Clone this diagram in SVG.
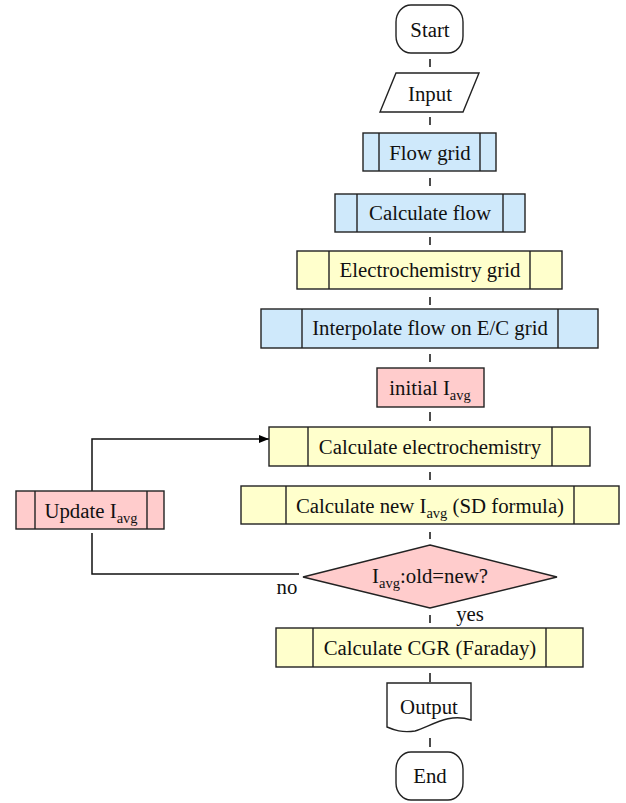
<svg xmlns="http://www.w3.org/2000/svg" width="626" height="803" viewBox="0 0 626 803" font-family="'Liberation Serif', 'Times New Roman', serif">
<defs>
<marker id="arr" markerWidth="10" markerHeight="8" refX="10" refY="4" orient="auto" markerUnits="userSpaceOnUse">
<path d="M0,0 L10,4 L0,8 Z" fill="#000"/>
</marker>
<style>
.s{stroke:#222;stroke-width:1.4}
.b{fill:#cfe9fb}
.y{fill:#ffffcc}
.p{fill:#ffcccc}
.w{fill:#fff}
text{font-family:'Liberation Serif','Times New Roman',serif}
.t{font-size:20.8px;fill:#111;text-anchor:middle}
.sub{font-size:14.5px}
.c{stroke:#111;stroke-width:1.5;fill:none}
</style>
</defs>
<rect width="626" height="803" fill="#fff"/>
<g id="connectors">
<line class="c" x1="430" y1="59" x2="430" y2="67"/>
<line class="c" x1="430" y1="117" x2="430" y2="125"/>
<line class="c" x1="430" y1="178" x2="430" y2="186"/>
<line class="c" x1="430" y1="237" x2="430" y2="245"/>
<line class="c" x1="430" y1="297" x2="430" y2="305"/>
<line class="c" x1="430" y1="354" x2="430" y2="362"/>
<line class="c" x1="430" y1="412" x2="430" y2="421"/>
<line class="c" x1="430" y1="472" x2="430" y2="480"/>
<line class="c" x1="430" y1="532" x2="430" y2="539"/>
<line class="c" x1="430" y1="615" x2="430" y2="623"/>
<line class="c" x1="430" y1="673" x2="430" y2="682"/>
<line class="c" x1="430" y1="738" x2="430" y2="747"/>
<polyline class="c" points="299,574 92,574 92,533"/>
<polyline class="c" points="92,491 92,439 269,439" marker-end="url(#arr)"/>
<text class="t" x="287" y="594">no</text>
<text class="t" x="470" y="621">yes</text>
</g>
<g id="start">
<rect class="s w" x="396" y="5" width="67" height="48" rx="15" ry="17"/>
<text class="t" x="430" y="37">Start</text>
</g>
<g id="input">
<polygon class="s w" points="396,73 479,73 463,112 380,112"/>
<text class="t" x="430" y="101">Input</text>
</g>
<g id="flowgrid">
<rect class="s b" x="363" y="133" width="133" height="38"/>
<line class="s" x1="379" y1="133" x2="379" y2="171"/>
<line class="s" x1="480" y1="133" x2="480" y2="171"/>
<text class="t" x="430" y="160">Flow grid</text>
</g>
<g id="calcflow">
<rect class="s b" x="335" y="194" width="190" height="38"/>
<line class="s" x1="357" y1="194" x2="357" y2="232"/>
<line class="s" x1="503" y1="194" x2="503" y2="232"/>
<text class="t" x="430" y="220">Calculate flow</text>
</g>
<g id="ecgrid">
<rect class="s y" x="297" y="251" width="265" height="38"/>
<line class="s" x1="329" y1="251" x2="329" y2="289"/>
<line class="s" x1="530" y1="251" x2="530" y2="289"/>
<text class="t" x="430" y="277">Electrochemistry grid</text>
</g>
<g id="interp">
<rect class="s b" x="261" y="309" width="337" height="39"/>
<line class="s" x1="302" y1="309" x2="302" y2="348"/>
<line class="s" x1="558" y1="309" x2="558" y2="348"/>
<text class="t" x="430" y="335">Interpolate flow on E/C grid</text>
</g>
<g id="initial">
<rect class="s p" x="377" y="368" width="107" height="39"/>
<text class="t" x="430" y="395">initial I<tspan class="sub" dy="5">avg</tspan></text>
</g>
<g id="calcec">
<rect class="s y" x="269" y="427" width="321" height="39"/>
<line class="s" x1="308" y1="427" x2="308" y2="466"/>
<line class="s" x1="552" y1="427" x2="552" y2="466"/>
<text class="t" x="430" y="454">Calculate electrochemistry</text>
</g>
<g id="calcnew">
<rect class="s y" x="241" y="486" width="378" height="38"/>
<line class="s" x1="286" y1="486" x2="286" y2="524"/>
<line class="s" x1="574" y1="486" x2="574" y2="524"/>
<text class="t" x="430" y="513">Calculate new I<tspan class="sub" dy="5">avg</tspan><tspan dy="-5"> (SD formula)</tspan></text>
</g>
<g id="decision">
<polygon class="s p" points="430,545 557,577 430,608 303,577"/>
<text class="t" x="430" y="583">I<tspan class="sub" dy="5">avg</tspan><tspan dy="-5">:old=new?</tspan></text>
</g>
<g id="update">
<rect class="s p" x="16" y="491" width="148" height="38"/>
<line class="s" x1="35" y1="491" x2="35" y2="529"/>
<line class="s" x1="147" y1="491" x2="147" y2="529"/>
<text class="t" x="91" y="518">Update I<tspan class="sub" dy="5">avg</tspan></text>
</g>
<g id="cgr">
<rect class="s y" x="276" y="628" width="307" height="39"/>
<line class="s" x1="313" y1="628" x2="313" y2="667"/>
<line class="s" x1="546" y1="628" x2="546" y2="667"/>
<text class="t" x="430" y="655">Calculate CGR (Faraday)</text>
</g>
<g id="output">
<path class="s w" d="M387,683 H471 V720 C448,712 430,727 415,731 C402,733 394,730 387,727 Z"/>
<text class="t" x="429" y="714">Output</text>
</g>
<g id="end">
<rect class="s w" x="396" y="752" width="67" height="48" rx="15" ry="17"/>
<text class="t" x="430" y="783">End</text>
</g>
</svg>
